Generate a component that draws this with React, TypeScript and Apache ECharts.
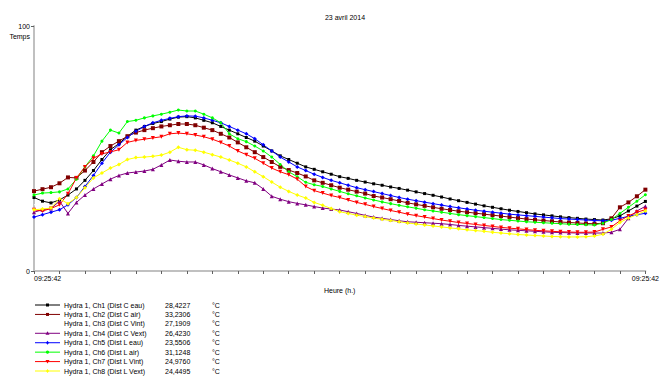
import React, { useEffect, useRef } from "react";
import * as echarts from "echarts";

const chartTitle = "23 avril 2014";
const startTime = "09:25:42";
const stepMinutes = 20;
const pointCount = 73;

const seriesNames = [
  "Hydra 1, Ch1 (Dist C eau)",
  "Hydra 1, Ch2 (Dist C air)",
  "Hydra 1, Ch3 (Dist C Vint)",
  "Hydra 1, Ch4 (Dist C Vext)",
  "Hydra 1, Ch5 (Dist L eau)",
  "Hydra 1, Ch6 (Dist L air)",
  "Hydra 1, Ch7 (Dist L Vint)",
  "Hydra 1, Ch8 (Dist L Vext)",
];
const legendValues = ["28,4227", "33,2306", "27,1909", "26,4230", "23,5506", "31,1248", "24,9760", "24,4495"];
const unitLabel = "°C";

const ch1 = [
  30.0, 28.5, 27.8, 29.0, 31.0, 33.5, 37.0, 41.0, 45.5, 49.5,
  52.0, 55.0, 57.5, 59.0, 60.2, 61.0, 62.0, 62.8, 63.0, 62.5,
  61.5, 60.5, 59.0, 57.5, 56.0, 54.5, 53.0, 51.0, 49.0, 47.0,
  45.5, 44.0, 42.5, 41.5, 40.5, 39.5, 38.5, 37.8, 37.0, 36.3,
  35.6, 35.0, 34.3, 33.7, 33.0, 32.3, 31.6, 30.9, 30.2, 29.4,
  28.7, 28.0, 27.3, 26.6, 26.0, 25.4, 24.8, 24.3, 23.8, 23.3,
  22.9, 22.5, 22.1, 21.8, 21.5, 21.2, 21.0, 20.8, 21.3, 22.5,
  24.5, 26.5, 28.4,
];
const ch2 = [
  32.6, 33.4, 34.2, 35.8, 38.2, 38.0, 41.0, 44.5, 48.5, 51.0,
  53.0, 55.0, 56.5, 57.5, 58.3, 59.0, 59.5, 60.0, 60.0, 59.5,
  58.5, 57.5, 56.0, 54.5, 52.5, 50.5, 48.5, 46.5, 44.5, 42.5,
  41.2, 40.0, 38.6, 37.0, 36.0, 35.0, 34.0, 33.2, 32.4, 31.6,
  30.6, 30.0, 29.3, 28.6, 27.8, 27.2, 26.6, 26.0, 25.4, 24.9,
  24.4, 24.0, 23.6, 23.2, 22.8, 22.4, 22.0, 21.6, 21.2, 20.9,
  20.6, 20.3, 20.0, 19.8, 19.6, 19.4, 19.3, 19.5, 21.5, 26.0,
  28.0, 30.5, 33.2,
];
const ch3 = [
  27.0, 27.5, 28.0, 29.0, 31.0, 34.0, 38.0, 42.0, 46.0, 49.0,
  51.5, 53.5, 55.0, 56.5, 57.5, 58.3, 59.0, 59.5, 59.8, 59.5,
  59.0, 58.0, 57.0, 55.5, 54.0, 52.5, 50.5, 48.5, 46.5, 44.5,
  42.5, 41.0, 39.5, 38.0, 37.0, 36.0, 35.0, 34.0, 33.2, 32.4,
  31.6, 30.8, 30.0, 29.3, 28.6, 28.0, 27.4, 26.8, 26.2, 25.6,
  25.1, 24.6, 24.1, 23.7, 23.3, 22.9, 22.5, 22.1, 21.8, 21.5,
  21.2, 20.9, 20.7, 20.5, 20.3, 20.1, 20.0, 20.0, 20.5, 22.0,
  24.0, 25.8, 27.19,
];
const ch4 = [
  24.0, 25.0, 25.5, 28.5, 23.5, 28.0, 31.0, 33.5, 35.5, 37.5,
  39.0, 40.0, 40.4, 40.8, 41.5, 43.3, 45.3, 44.8, 44.5, 44.5,
  43.3, 41.8, 40.5, 39.2, 38.0, 36.8, 36.0, 33.5, 30.5, 29.3,
  28.3, 27.6, 27.0, 26.3, 25.7, 25.3, 24.9, 24.2, 23.5, 22.7,
  22.0, 21.5, 21.0, 20.5, 20.1, 19.9, 19.7, 19.5, 19.3, 19.0,
  18.6, 18.3, 18.0, 17.7, 17.4, 17.1, 16.8, 16.6, 16.4, 16.2,
  16.0, 15.8, 15.7, 15.6, 15.5, 15.5, 15.5, 15.5, 15.8, 17.0,
  21.5, 24.5, 26.4,
];
const ch5 = [
  22.0, 23.0, 24.0, 25.0, 27.0, 30.0, 34.5, 39.0, 44.0, 48.5,
  51.5, 54.5, 57.0, 59.0, 60.5, 61.5, 62.3, 63.0, 63.3, 63.2,
  62.5, 61.5, 60.5, 59.0, 57.5, 56.0, 54.0, 51.5, 49.0, 46.5,
  44.5, 42.5, 41.0, 39.5, 38.2, 37.0, 36.0, 35.0, 34.0, 33.2,
  32.4, 31.6, 30.8, 30.0, 29.3, 28.7, 28.1, 27.5, 26.9, 26.3,
  25.8, 25.3, 24.8, 24.4, 24.0, 23.6, 23.2, 22.9, 22.6, 22.3,
  22.0, 21.7, 21.4, 21.2, 21.0, 20.8, 20.6, 20.5, 20.7, 21.5,
  22.3, 23.0, 23.55,
];
const ch6 = [
  31.0, 31.8, 32.0, 32.3, 33.5, 37.5, 42.5, 47.0, 53.0, 57.5,
  56.3, 61.0, 61.5, 62.5, 63.3, 64.0, 64.8, 65.7, 65.3, 65.3,
  64.0, 62.5, 60.5, 56.0, 54.0, 52.8, 51.0, 49.0, 46.5, 43.5,
  40.5, 38.5, 36.2, 35.2, 34.5, 33.5, 32.5, 31.5, 30.7, 29.8,
  29.0, 28.2, 27.5, 26.8, 26.2, 25.6, 25.0, 24.5, 24.0, 23.5,
  23.0, 22.6, 22.2, 21.8, 21.4, 21.0, 20.7, 20.4, 20.1, 19.9,
  19.7, 19.5, 19.3, 19.1, 19.0, 18.9, 18.8, 19.5, 21.0, 23.5,
  26.0, 28.5, 31.1,
];
const ch7 = [
  25.0, 24.5, 25.5, 27.0, 31.5, 38.0, 42.5, 46.0, 47.8, 48.6,
  49.5, 52.5, 53.3, 53.8, 54.3, 54.8, 56.0, 56.3, 56.0, 55.5,
  54.8, 53.8, 52.5, 51.0, 49.0, 47.5, 46.0, 44.0, 42.0, 40.5,
  39.3, 37.5, 34.5, 32.8, 31.8, 30.8, 30.0, 29.0, 28.0, 27.2,
  26.3, 25.5, 24.7, 24.0, 23.2, 22.6, 22.0, 21.4, 20.8, 20.3,
  19.8, 19.4, 19.0, 18.6, 18.2, 17.8, 17.5, 17.2, 16.9, 16.6,
  16.4, 16.2, 16.0, 15.9, 15.8, 15.8, 15.9, 17.0, 18.0, 20.5,
  22.5, 24.0, 25.0,
];
const ch8 = [
  25.0, 25.3, 25.7, 29.5, 27.5, 30.0, 34.0, 38.0, 40.0, 42.0,
  43.5, 45.5, 46.3, 46.5, 46.8, 47.3, 48.5, 50.5, 49.5, 49.3,
  48.5, 47.5, 46.5, 45.3, 44.0, 42.5, 40.5, 38.5, 36.3, 34.2,
  32.5, 31.0, 29.8, 28.0, 26.8, 25.5, 24.2, 23.5, 22.8, 22.2,
  21.6, 21.1, 20.6, 20.1, 19.6, 19.2, 18.8, 18.4, 18.0, 17.6,
  17.2, 16.8, 16.5, 16.2, 15.8, 15.5, 15.2, 14.9, 14.7, 14.5,
  14.3, 14.1, 14.0, 13.9, 13.9, 14.0, 14.3, 15.0, 17.0, 19.8,
  21.6, 23.0, 24.45,
];

const seriesData = [ch1, ch2, ch3, ch4, ch5, ch6, ch7, ch8];
const seriesColors = ["#000000", "#800000", "#ffffff", "#800080", "#0000ff", "#00ff00", "#ff0000", "#ffff00"];
const seriesSymbols = ["rect", "rect", "none", "triangle", "diamond", "circle", "triangle", "diamond"];
const seriesSymbolSizes = [3, 4, 0, 4, 4, 3, 4, 4];
const seriesSymbolRotate = [0, 0, 0, 0, 0, 0, 180, 0];

function buildCategories(): string[] {
  const [h, m, s] = startTime.split(":").map(Number);
  const start = h * 3600 + m * 60 + s;
  const out: string[] = [];
  for (let i = 0; i < pointCount; i++) {
    const t = (start + i * stepMinutes * 60) % 86400;
    const hh = String(Math.floor(t / 3600)).padStart(2, "0");
    const mm = String(Math.floor((t % 3600) / 60)).padStart(2, "0");
    const ss = String(t % 60).padStart(2, "0");
    out.push(`${hh}:${mm}:${ss}`);
  }
  return out;
}

const FONT = "Liberation Sans, Arial, sans-serif";

function legendMarker(symbol: string, cx: number, cy: number, color: string, rotate: number): any {
  const style = { fill: color, stroke: null };
  if (symbol === "rect") return { type: "rect", shape: { x: cx - 1.5, y: cy - 1.5, width: 3, height: 3 }, style };
  if (symbol === "circle") return { type: "circle", shape: { cx, cy, r: 1.6 }, style };
  if (symbol === "diamond")
    return { type: "polygon", shape: { points: [[cx, cy - 2], [cx + 1.5, cy], [cx, cy + 2], [cx - 1.5, cy]] }, style };
  if (symbol === "triangle") {
    const pts = rotate
      ? [[cx - 2, cy - 1.5], [cx + 2, cy - 1.5], [cx, cy + 2]]
      : [[cx, cy - 2], [cx + 2, cy + 1.5], [cx - 2, cy + 1.5]];
    return { type: "polygon", shape: { points: pts }, style };
  }
  return null;
}

export default function App() {
  const ref = useRef<HTMLDivElement>(null);
  useEffect(() => {
    if (!ref.current) return;
    const chart = echarts.init(ref.current, undefined, { renderer: "svg" });
    const categories = buildCategories();
    const last = categories.length - 1;

    const legendTop = 305;
    const legendStep = 9.43;
    const legendEls: any[] = [];
    seriesNames.forEach((name, i) => {
      const y = legendTop + i * legendStep;
      const color = seriesColors[i];
      legendEls.push({ type: "line", shape: { x1: 35, y1: y, x2: 60, y2: y }, style: { stroke: color, lineWidth: 1 } });
      const mk = legendMarker(seriesSymbols[i], 47.5, y, color, seriesSymbolRotate[i]);
      if (mk) legendEls.push(mk);
      const ts = { fontSize: 7, fill: "#000", font: `7px ${FONT}`, verticalAlign: "middle", align: "left" };
      legendEls.push({ type: "text", x: 64, y, style: { ...ts, text: name } });
      legendEls.push({ type: "text", x: 165, y, style: { ...ts, text: legendValues[i] } });
      legendEls.push({ type: "text", x: 212, y, style: { ...ts, text: unitLabel } });
    });

    chart.setOption({
      animation: false,
      backgroundColor: "#ffffff",
      textStyle: { fontFamily: FONT },
      title: {
        text: chartTitle,
        left: 340,
        top: 9,
        textAlign: "center",
        textStyle: { fontSize: 7, fontWeight: "normal", color: "#000", fontFamily: FONT },
      },
      grid: { left: 34, right: 15, top: 26, bottom: 108, containLabel: false },
      xAxis: {
        type: "category",
        data: categories,
        boundaryGap: false,
        name: "Heure (h.)",
        nameLocation: "middle",
        nameGap: 13,
        nameTextStyle: { fontSize: 7, color: "#000", fontFamily: FONT },
        axisLine: { lineStyle: { color: "#c0c0c0", width: 2 } },
        axisTick: { show: true, interval: 2, length: 3, lineStyle: { color: "#606060" } },
        axisLabel: {
          interval: (i: number) => i === 0 || i === last,
          fontSize: 7,
          color: "#000",
          margin: 4,
          fontFamily: FONT,
          alignMinLabel: "left",
        },
        splitLine: { show: false },
      },
      yAxis: {
        type: "value",
        min: 0,
        max: 100,
        interval: 100,
        name: "Temps",
        nameLocation: "end",
        nameGap: -10,
        nameTextStyle: {
          fontSize: 7,
          color: "#000",
          align: "right",
          verticalAlign: "middle",
          padding: [0, 4, 0, 0],
          fontFamily: FONT,
        },
        axisLine: { show: true, lineStyle: { color: "#c0c0c0", width: 2 } },
        axisTick: { show: true, length: 3, lineStyle: { color: "#606060" } },
        axisLabel: { fontSize: 7, color: "#000", margin: 4, fontFamily: FONT },
        splitLine: { show: false },
      },
      graphic: legendEls,
      series: seriesNames.map((name, i) => ({
        name,
        type: "line",
        data: seriesData[i],
        z: i === 2 ? 1 : 2,
        symbol: seriesSymbols[i],
        symbolSize: seriesSymbolSizes[i],
        symbolRotate: seriesSymbolRotate[i],
        showSymbol: seriesSymbols[i] !== "none",
        lineStyle: { color: seriesColors[i], width: 1 },
        itemStyle: { color: seriesColors[i] },
        silent: true,
      })),
    });
    return () => chart.dispose();
  }, []);
  return (
    <div
      ref={ref}
      style={{ position: "fixed", left: 0, top: 0, width: 662, height: 379, background: "#fff" }}
    />
  );
}
